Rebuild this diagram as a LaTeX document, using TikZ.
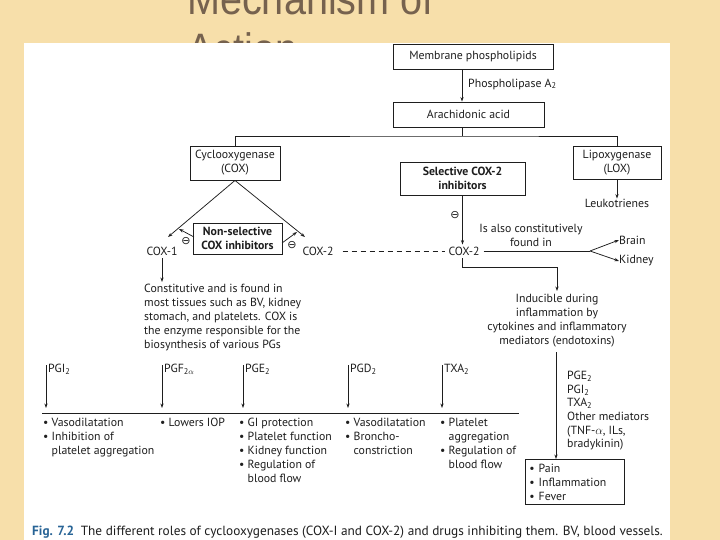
\documentclass[tikz,border=0pt]{standalone}
\usepackage{fontspec}
\setmainfont{PT Sans}
\newfontfamily\titlefont{Liberation Sans}
\newfontfamily\symfont{DejaVu Sans}
\usetikzlibrary{arrows.meta}
\definecolor{beige}{RGB}{247,223,170}
\definecolor{titlec}{RGB}{118,98,78}
\definecolor{figblue}{RGB}{40,100,150}
\definecolor{ink}{RGB}{30,30,30}
\begin{document}
\begin{tikzpicture}[x=1pt,y=-1pt,
  txt/.style={font=\fontsize{11.8}{14}\selectfont,text=ink,inner sep=0pt},
  box/.style={txt,draw=ink,line width=0.9pt,align=center},
  bbox/.style={box,font=\fontsize{11.8}{14}\selectfont\bfseries},
  ln/.style={draw=ink,line width=0.75pt},
  arr/.style={ln,-{Stealth[length=4.5pt,width=3.2pt]}},
  minus/.style={inner sep=0pt,font=\symfont\fontsize{11}{11}\selectfont,text=ink},
  col/.style={txt,anchor=north west,align=left}]
\useasboundingbox (0,0) rectangle (720,540);
\clip (0,0) rectangle (720,540);
% background and title
\fill[beige] (0,0) rectangle (720,540);
\node[anchor=base west,inner sep=0pt,text=titlec,font=\titlefont\fontsize{44}{50}\selectfont,xscale=0.9] (title1) at (187,15) {Mechanism of};
\node[anchor=base west,inner sep=0pt,text=titlec,font=\titlefont\fontsize{44}{50}\selectfont,xscale=0.9] (title2) at (187,65) {Action};
\fill[white] (24,43) rectangle (670,540);

% top boxes
\node[box,minimum width=160pt,minimum height=25pt] (mem) at (473,56.5) {Membrane phospholipids};
\node[box,minimum width=151pt,minimum height=25pt] (ara) at (468.5,114.5) {Arachidonic acid};
\coordinate (cx) at (462,0);
\draw[arr] (mem.south -| cx) -- (ara.north -| cx);
\node[txt,anchor=west] (pla) at (468,84) {Phospholipase A\textsubscript{2}};

\node[box,minimum width=90pt,minimum height=34pt] (cox) at (235,163) {Cyclooxygenase\\(COX)};
\node[box,minimum width=88pt,minimum height=33pt] (lox) at (617,163) {Lipoxygenase\\(LOX)};
\coordinate (br) at (462,136);
\draw[ln] (ara.south -| cx) -- (br);
\draw[ln] (cox.north) |- (br) -| (lox.north);
\node[txt] (leuko) at (617,203) {Leukotrienes};
\draw[arr] (lox.south) -- (leuko.north);

\node[bbox,minimum width=125pt,minimum height=33pt] (sel) at (462.5,178.5) {Selective COX-2\\inhibitors};

% COX branches
\node[txt] (cox1) at (162,251) {COX-1};
\node[txt] (cox2l) at (318,251) {COX-2};
\coordinate (t1) at (168,237);
\coordinate (t2) at (305,237);
\draw[arr] (cox.south) -- (t1);
\draw[arr] (cox.south) -- (t2);
\node[bbox,minimum width=89pt,minimum height=31pt] (nsel) at (237.5,238.5) {Non-selective\\COX inhibitors};
\coordinate (s1a) at (194,237);
\coordinate (s1b) at (179,229);
\coordinate (s2a) at (282,243);
\coordinate (s2b) at (297,232);
\draw[arr] (s1a) -- (s1b);
\draw[arr] (s2a) -- (s2b);
\node[minus] (m1) at (186,241) {⊖};
\node[minus] (m2) at (292,245) {⊖};

% right COX-2
\node[txt] (cox2r) at (464,251) {COX-2};
\draw[arr] (sel.south) -- ([yshift=2pt]sel.south |- cox2r.north);
\node[minus] (m3) at (455,215) {⊖};
\node[txt,align=center] (also) at (531,235) {Is also constitutively\\found in};
\draw[ln,dash pattern=on 5pt off 4pt] ([xshift=9pt]cox2l.east) -- ([xshift=-3pt]cox2r.west);
\coordinate (fork) at (590,251);
\node[txt,anchor=west] (brain) at (619,240) {Brain};
\node[txt,anchor=west] (kidney) at (619,261) {Kidney};
\draw[ln] ([xshift=4pt]cox2r.east) -- (fork);
\draw[arr] (fork) -- (brain.west);
\draw[arr] (fork) -- (kidney.west);

% COX-1 description
\node[col] (const) at (144,284) {Constitutive and is found in\\most tissues such as BV, kidney\\stomach, and platelets. COX is\\the enzyme responsible for the\\biosynthesis of various PGs};
\draw[arr] ([yshift=-3pt]cox1.south) -- ([yshift=2pt]const.north -| cox1);

% COX-2 inducible
\coordinate (k0) at (462,258);
\coordinate (k1) at (462,267);
\node[txt,anchor=north,align=center] (induc) at (557,294) {Inducible during\\inflammation by\\cytokines and inflammatory\\mediators (endotoxins)};
\draw[arr] (k0) -- (k1) -| ([yshift=3pt]induc.north);
\node[txt,anchor=north west,align=left,font=\fontsize{11.8}{13.6}\selectfont] (meds) at (567,371) {PGE\textsubscript{2}\\PGI\textsubscript{2}\\TXA\textsubscript{2}\\Other mediators\\(TNF-$\alpha$, ILs,\\bradykinin)};
\node[box,anchor=north west,minimum width=99pt,minimum height=45pt,text width=91pt,align=left] (pain) at (525,459) {• Pain\\• Inflammation\\• Fever};
\coordinate (k2) at (556,352);
\draw[arr] (k2) -- (k2 |- pain.north);

% prostaglandin columns
\node[txt,anchor=north west] (pgi) at (48,364) {PGI\textsubscript{2}};
\node[txt,anchor=north west] (pgf) at (164,364) {PGF\textsubscript{2$\alpha$}};
\node[txt,anchor=north west] (pge) at (245,364) {PGE\textsubscript{2}};
\node[txt,anchor=north west] (pgd) at (350,364) {PGD\textsubscript{2}};
\node[txt,anchor=north west] (txa) at (444,364) {TXA\textsubscript{2}};
\coordinate (hl1) at (42,413);
\coordinate (hl2) at (519,413);
\coordinate (hy) at (0,408);
\foreach \n in {pgi,pgf,pge,pgd,txa}{
  \draw[arr] ([xshift=-2pt,yshift=-1pt]\n.north west) -- ([xshift=-2pt]\n.north west |- hy);
}
\draw[ln,line width=1pt] (hl1) -- (hl2);

\node[col] (c1) at (43,418) {• Vasodilatation\\• Inhibition of\\\phantom{• }platelet aggregation};
\node[col] (c2) at (160,418) {• Lowers IOP};
\node[col] (c3) at (239,418) {• GI protection\\• Platelet function\\• Kidney function\\• Regulation of\\\phantom{• }blood flow};
\node[col] (c4) at (345,418) {• Vasodilatation\\• Broncho-\\\phantom{• }constriction};
\node[col] (c5) at (440,418) {• Platelet\\\phantom{• }aggregation\\• Regulation of\\\phantom{• }blood flow};

% caption
\node[anchor=base west,inner sep=0pt,text=ink,font=\fontsize{13.3}{15}\selectfont] (cap) at (32,535) {\textcolor{figblue}{\bfseries Fig. 7.2}\hspace{0.5em}The different roles of cyclooxygenases (COX-I and COX-2) and drugs inhibiting them. BV, blood vessels.};
\end{tikzpicture}
\end{document}
